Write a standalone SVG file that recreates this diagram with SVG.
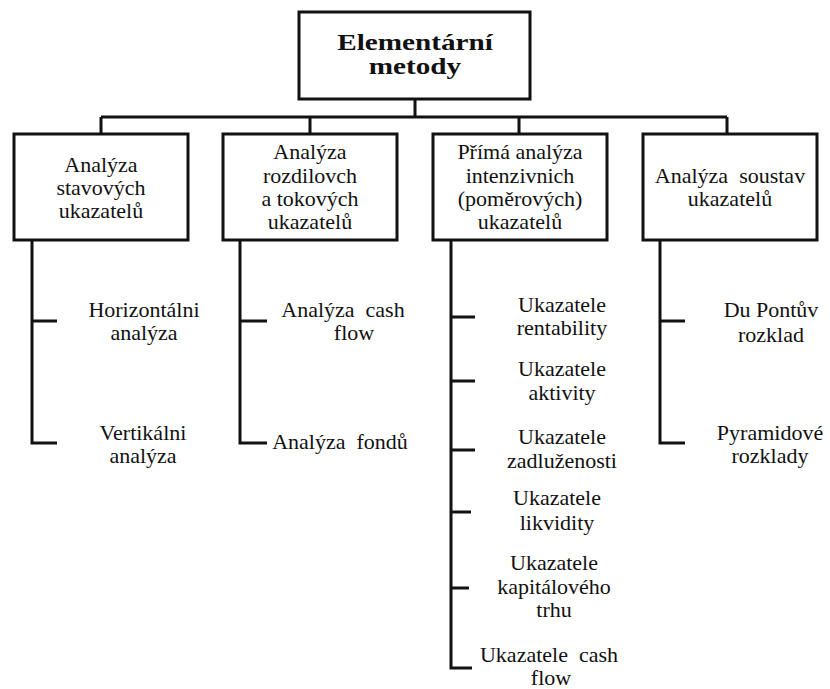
<svg xmlns="http://www.w3.org/2000/svg" width="830" height="689" viewBox="0 0 830 689">
<style>
.box{fill:#fff;stroke:#111;stroke-width:3}
.ln{fill:none;stroke:#111;stroke-width:3}
.tx{font-family:'Liberation Serif','DejaVu Serif','Times New Roman',serif;font-size:22px;fill:#111;text-anchor:middle}
.t{font-weight:bold;font-size:23px}
</style>
<rect width="830" height="689" fill="#fff"/>
<g id="connectors">
<path class="ln" d="M415 99V117M101 117H727M101 117V134M310 117V134M519 117V134M727 117V134"/>
<path class="ln" d="M32 240V443H57M32 321H57"/>
<path class="ln" d="M240 240V443H267M240 321H267"/>
<path class="ln" d="M451 240V668H472M451 317H475M451 381H475M451 450H475M451 512H471M451 588H469"/>
<path class="ln" d="M660 240V443H685M660 321H685"/>
</g>
<g id="root" class="tx">
<rect class="box" x="299" y="12" width="231" height="87"/>
<text class="t" x="415" y="50" transform="translate(415 0) scale(1.27 1) translate(-415 0)">Elementární</text>
<text class="t" x="415" y="74" transform="translate(415 0) scale(1.27 1) translate(-415 0)">metody</text>
</g>
<g id="n1" class="tx">
<rect class="box" x="14" y="134" width="174" height="106"/>
<text x="101" y="172">Analýza</text>
<text x="101" y="195">stavových</text>
<text x="101" y="218">ukazatelů</text>
</g>
<g id="n2" class="tx">
<rect class="box" x="223" y="134" width="174" height="106"/>
<text x="310" y="159">Analýza</text>
<text x="310" y="183">rozdilovch</text>
<text x="310" y="206">a tokových</text>
<text x="310" y="229">ukazatelů</text>
</g>
<g id="n3" class="tx">
<rect class="box" x="433" y="134" width="174" height="106"/>
<text x="520" y="159">Přímá analýza</text>
<text x="520" y="183">intenzivnich</text>
<text x="520" y="206">(poměrových)</text>
<text x="520" y="229">ukazatelů</text>
</g>
<g id="n4" class="tx">
<rect class="box" x="643" y="134" width="174" height="106"/>
<text x="730" y="183" xml:space="preserve">Analýza  soustav</text>
<text x="730" y="206">ukazatelů</text>
</g>
<g class="tx">
<g id="c1a"><text x="144" y="317">Horizontálni</text><text x="144" y="340">analýza</text></g>
<g id="c1b"><text x="143" y="440">Vertikálni</text><text x="143" y="463">analýza</text></g>
<g id="c2a"><text x="343" y="317" xml:space="preserve">Analýza  cash</text><text x="354" y="340">flow</text></g>
<g id="c2b"><text x="340" y="449" xml:space="preserve">Analýza  fondů</text></g>
<g id="c3a"><text x="562" y="312">Ukazatele</text><text x="562" y="335">rentability</text></g>
<g id="c3b"><text x="562" y="376">Ukazatele</text><text x="562" y="400">aktivity</text></g>
<g id="c3c"><text x="562" y="444">Ukazatele</text><text x="562" y="468">zadluženosti</text></g>
<g id="c3d"><text x="557" y="505">Ukazatele</text><text x="557" y="530">likvidity</text></g>
<g id="c3e"><text x="554" y="570">Ukazatele</text><text x="554" y="594">kapitálového</text><text x="554" y="617">trhu</text></g>
<g id="c3f"><text x="549" y="662" xml:space="preserve">Ukazatele  cash</text><text x="551" y="685">flow</text></g>
<g id="c4a"><text x="771" y="317">Du Pontův</text><text x="771" y="342">rozklad</text></g>
<g id="c4b"><text x="770" y="440">Pyramidové</text><text x="770" y="463">rozklady</text></g>
</g>
</svg>
